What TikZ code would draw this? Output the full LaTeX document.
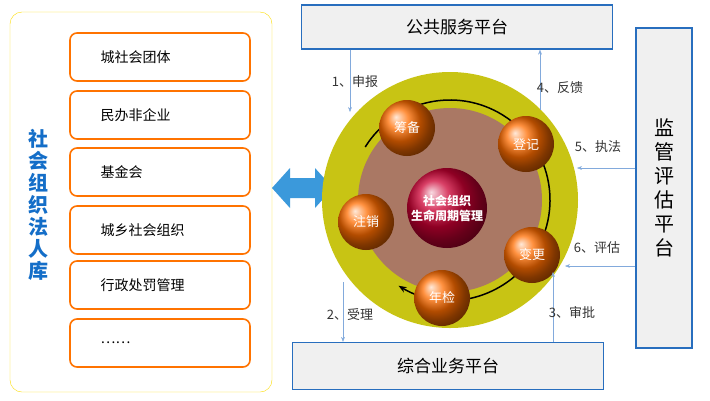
\documentclass[tikz,border=0pt]{standalone}
\usepackage{fontspec}
\setmainfont{Noto Sans CJK SC}
\usetikzlibrary{arrows.meta,shadings}

\definecolor{ringyellow}{RGB}{200,196,20}
\definecolor{innerbrown}{RGB}{170,120,100}
\definecolor{edgeblue}{RGB}{40,110,190}
\definecolor{flowblue}{RGB}{130,170,220}
\definecolor{titleblue}{RGB}{20,110,200}

\tikzset{
  platform/.style={draw=edgeblue, line width=1.2pt, fill=gray!12, inner sep=0pt},
  itembox/.style={draw=orange!90!red, line width=1.6pt, rounded corners=7pt, fill=white,
    minimum width=180pt, minimum height=48pt},
  ball/.style={circle, ball color=orange!85!red, text=white, minimum size=56pt, inner sep=0pt,
    font=\fontsize{13}{15}\selectfont},
  flow/.style={draw=flowblue, -{Stealth[length=5pt]}},
  flowlabel/.style={font=\fontsize{13}{15}\selectfont, text=black!80}
}

\begin{document}
\begin{tikzpicture}[x=1pt,y=-1pt]
  \useasboundingbox (0,0) rectangle (710,400);

  % left panel
  \draw[draw=yellow!80!orange, rounded corners=12pt, fill=white] (10,12) rectangle (272,392);
  \node[text=titleblue, font=\fontsize{20}{22}\bfseries\selectfont, align=center] (lib) at (38,205)
    {社\\会\\组\\织\\法\\人\\库};
  \node[itembox] (i1) at (160,57) {};
  \node[itembox] (i2) at (160,115) {};
  \node[itembox] (i3) at (160,172) {};
  \node[itembox] (i4) at (160,230) {};
  \node[itembox] (i5) at (160,285) {};
  \node[itembox] (i6) at (160,343) {};
  \foreach \n/\t in {i1/城社会团体, i2/民办非企业, i3/基金会, i4/城乡社会组织, i5/行政处罚管理, i6/……}
    \node[anchor=west, font=\fontsize{14}{16}\selectfont] at ([xshift=28pt]\n.west) {\t};

  % double arrow
  \fill[cyan!70!blue!80] (272,188) -- (290,168) -- (290,178) -- (315,178) -- (315,168)
    -- (333,188) -- (315,208) -- (315,198) -- (290,198) -- (290,208) -- cycle;

  % platforms
  \node[platform, minimum width=311pt, minimum height=44pt, font=\fontsize{17}{19}\selectfont]
    (pub) at (457,27) {公共服务平台};
  \node[platform, minimum width=311pt, minimum height=47pt, font=\fontsize{17}{19}\selectfont]
    (biz) at (448,366) {综合业务平台};
  \node[platform, minimum width=56pt, minimum height=320pt, font=\fontsize{20}{24}\selectfont, align=center]
    (sup) at (664,188) {监\\管\\评\\估\\平\\台};

  % life cycle
  \coordinate (c) at (450,200);
  \fill[ringyellow] (c) circle (128pt);
  \fill[innerbrown] (c) circle (92pt);
  \draw[line width=1.5pt, -{Stealth[length=8pt]}] (c) ++(148:100pt) arc[start angle=148, end angle=-121, radius=100pt];
  \node[circle, ball color=purple!80!red, text=white, minimum size=80pt, inner sep=0pt, align=center,
    font=\fontsize{12}{15}\bfseries\selectfont] (core) at (447,208) {社会组织\\生命周期管理};
  \node[ball] (prep) at (407,128) {筹备};
  \node[ball] (reg) at (526,144) {登记};
  \node[ball] (chg) at (532,255) {变更};
  \node[ball] (chk) at (442,298) {年检};
  \node[ball] (cancel) at (366,222) {注销};

  % flows
  \coordinate (f1) at (350,112);
  \coordinate (f4) at (540,110);
  \coordinate (f5) at (577,168);
  \coordinate (f6) at (565,266);
  \coordinate (f3) at (553,272);
  \coordinate (f2) at (343,282);
  \draw[flow] (pub.south -| f1) -- (f1);
  \draw[flow] (f4) -- (pub.south -| f4);
  \draw[flow] (sup.west |- f5) -- (f5);
  \draw[flow] (sup.west |- f6) -- (f6);
  \draw[flow] (biz.north -| f3) -- (f3);
  \draw[flow] (f2) -- (biz.north -| f2);
  \node[flowlabel] (l1) at (355,82) {1、申报};
  \node[flowlabel] (l4) at (560,88) {4、反馈};
  \node[flowlabel] (l5) at (598,147) {5、执法};
  \node[flowlabel] (l6) at (597,248) {6、评估};
  \node[flowlabel] (l3) at (572,312) {3、审批};
  \node[flowlabel] (l2) at (350,315) {2、受理};
\end{tikzpicture}
\end{document}
